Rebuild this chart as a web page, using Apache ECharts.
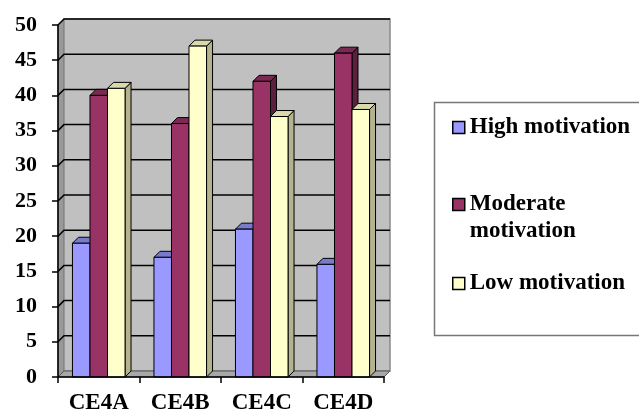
<!DOCTYPE html>
<html>
<head>
<meta charset="utf-8">
<script src="https://cdn.jsdelivr.net/npm/echarts@6/dist/echarts.min.js"></script>
<style>
  html, body { margin: 0; padding: 0; background: #fff; }
  #chart { width: 639px; height: 418px; }
</style>
</head>
<body>
<div id="chart"></div>
<script>
// data
const categories = ['CE4A', 'CE4B', 'CE4C', 'CE4D'];
const highMotivation = [19, 17, 21, 16];
const moderateMotivation = [40, 36, 42, 46];
const lowMotivation = [41, 47, 37, 38];
const yTicks = [0, 5, 10, 15, 20, 25, 30, 35, 40, 45, 50];

const FONT = '"Liberation Serif", "Times New Roman", serif';
const D = 6; // 3d depth offset

// front / top / side colours for each series
const palette = [
  { front: '#9999ff', top: '#7a7acc', side: '#6b6bb3' },
  { front: '#993366', top: '#7a2952', side: '#5c1f3d' },
  { front: '#ffffcc', top: '#d9d9ad', side: '#b3b38f' }
];

// back wall, side wall, floor and gridlines
function renderWalls(params, api) {
  const cs = params.coordSys;
  const x = cs.x, y = cs.y, w = cs.width, h = cs.height;
  const children = [
    { type: 'polygon', shape: { points: [[x, y], [x + D, y - D], [x + D, y + h - D], [x, y + h]] },
      style: { fill: '#999', stroke: '#555', lineWidth: 1 } },
    { type: 'rect', shape: { x: x + D, y: y - D, width: w, height: h },
      style: { fill: '#c0c0c0', stroke: '#8a8a8a', lineWidth: 1.5 } },
    { type: 'polygon', shape: { points: [[x, y + h], [x + D, y + h - D], [x + w + D, y + h - D], [x + w, y + h]] },
      style: { fill: '#a8a8a8', stroke: '#555', lineWidth: 1 } }
  ];
  yTicks.forEach(function (v) {
    if (v === 0) return;
    const cy = api.coord([0, v])[1];
    children.push({ type: 'polyline',
      shape: { points: [[x, cy], [x + D, cy - D], [x + w + D, cy - D]] },
      style: { stroke: '#000', lineWidth: 1.5, fill: null } });
  });
  return { type: 'group', children: children };
}

function barRenderer(sIdx) {
  const c = palette[sIdx];
  return function (params, api) {
    const cat = api.value(0), val = api.value(1);
    const band = api.size([1, 0])[0];
    const bw = band * 0.215;
    const center = api.coord([cat, 0])[0];
    const x0 = center - 1.5 * bw + sIdx * bw;
    const top = api.coord([cat, val])[1];
    const bottom = api.coord([cat, 0])[1];
    const st = { stroke: '#000', lineWidth: 1 };
    return {
      type: 'group',
      children: [
        { type: 'polygon', shape: { points: [[x0 + bw, top], [x0 + bw + D, top - D], [x0 + bw + D, bottom - D], [x0 + bw, bottom]] },
          style: Object.assign({ fill: c.side }, st) },
        { type: 'polygon', shape: { points: [[x0, top], [x0 + D, top - D], [x0 + bw + D, top - D], [x0 + bw, top]] },
          style: Object.assign({ fill: c.top }, st) },
        { type: 'rect', shape: { x: x0, y: top, width: bw, height: bottom - top },
          style: Object.assign({ fill: c.front }, st) }
      ]
    };
  };
}

function barSeries(name, values, sIdx) {
  return {
    name: name,
    type: 'custom',
    z: 3,
    itemStyle: { color: palette[sIdx].front },
    renderItem: barRenderer(sIdx),
    encode: { x: 0, y: 1 },
    data: values.map(function (v, i) { return [i, v]; })
  };
}

function legendAt(name, top, extra) {
  return Object.assign({
    data: [name],
    orient: 'vertical',
    left: 452,
    top: top,
    padding: 0,
    icon: 'rect',
    itemWidth: 12,
    itemHeight: 12,
    itemStyle: { borderColor: '#000', borderWidth: 1.5 },
    selectedMode: false,
    textStyle: { fontFamily: FONT, fontWeight: 'bold', fontSize: 23, color: '#000', lineHeight: 27 }
  }, extra || {});
}

const chart = echarts.init(document.getElementById('chart'));
chart.setOption({
  backgroundColor: '#fff',
  animation: false,
  grid: { left: 58, top: 25, right: 255, bottom: 41 },
  xAxis: {
    type: 'category',
    data: categories,
    boundaryGap: true,
    axisLine: { lineStyle: { color: '#000', width: 1.5 } },
    axisTick: { show: true, length: 6, lineStyle: { color: '#000', width: 1.5 } },
    axisLabel: { fontFamily: FONT, fontWeight: 'bold', fontSize: 23, color: '#000', margin: 15 },
    z: 5
  },
  yAxis: {
    type: 'value',
    min: 0,
    max: 50,
    interval: 5,
    axisLine: { show: true, lineStyle: { color: '#000', width: 1.5 } },
    axisTick: { show: true, length: 6, lineStyle: { color: '#000', width: 1.5 } },
    axisLabel: { fontFamily: FONT, fontWeight: 'bold', fontSize: 22, color: '#000', margin: 21 },
    splitLine: { show: false },
    z: 5
  },
  legend: [
    legendAt('High motivation', 114),
    // empty first line keeps "Moderate" level with the icon
    legendAt('Moderate motivation', 164, {
      formatter: function () { return '\nModerate\nmotivation'; }
    }),
    legendAt('Low motivation', 270)
  ],
  graphic: [{
    type: 'rect',
    left: 432, top: 100,
    shape: { width: 215, height: 233 },
    style: { fill: 'none', stroke: '#777', lineWidth: 1.5 },
    z: -1
  }],
  series: [
    { name: 'walls', type: 'custom', z: 1, silent: true, renderItem: renderWalls, data: [[0, 0]] },
    barSeries('High motivation', highMotivation, 0),
    barSeries('Moderate motivation', moderateMotivation, 1),
    barSeries('Low motivation', lowMotivation, 2)
  ]
});
</script>
</body>
</html>
